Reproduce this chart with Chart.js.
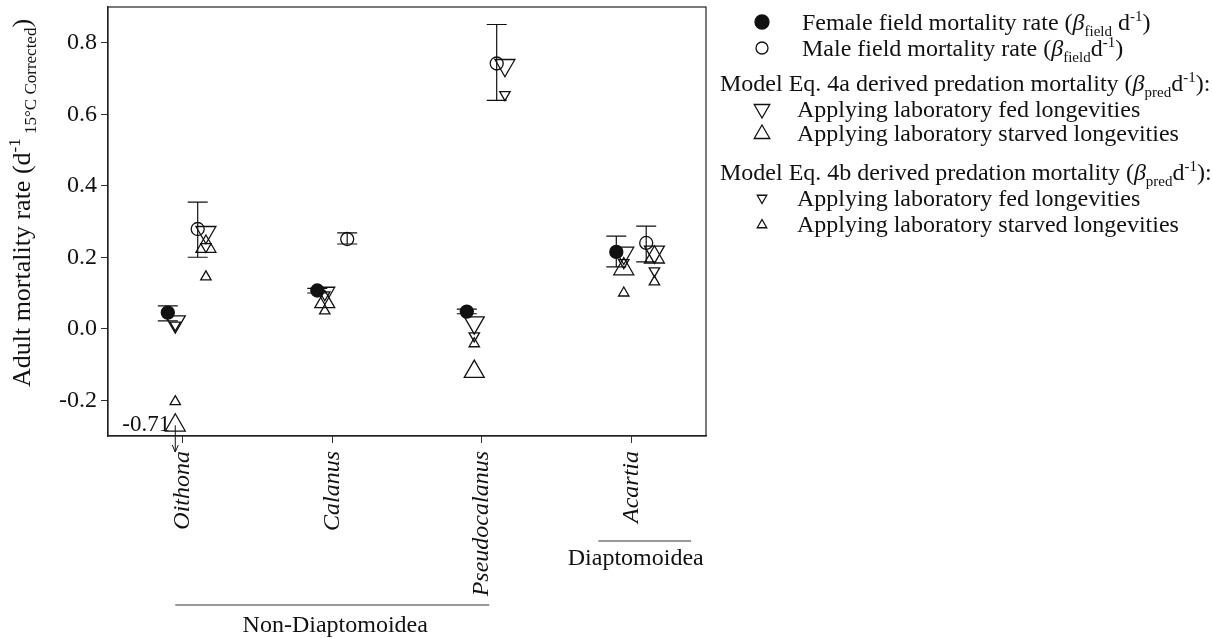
<!DOCTYPE html>
<html>
<head>
<meta charset="utf-8">
<script src="https://cdn.jsdelivr.net/npm/chart.js@4.4.0/dist/chart.umd.min.js"></script>
<style>
body { margin: 0; background: #fff; }
#wrap { position: relative; width: 1212px; height: 638px; font-family: "Liberation Serif", "Times New Roman", serif; color: #111; }
canvas { position: absolute; left: 0; top: 0; }
.leg { position: absolute; font-size: 24px; line-height: 24px; white-space: nowrap; }
.leg sub, .leg sup { font-size: 15px; line-height: 0; }
#ytitle sub, #ytitle sup { font-size: 17px; line-height: 0; }
#ytitle { position: absolute; left: -228px; top: 188px; width: 500px; text-align: center; font-size: 26px; line-height: 30px; white-space: nowrap; transform: rotate(-90deg); }
</style>
</head>
<body>
<div id="wrap">
  <canvas id="chart" width="1212" height="638"></canvas>
  <div id="ytitle">Adult mortality rate (d<sup>-1</sup><sub> 15°C Corrected</sub>)</div>
  <div class="leg" style="left:802px;top:10px">Female field mortality rate (<i>β</i><sub>field</sub> d<sup>-1</sup>)</div>
  <div class="leg" style="left:802px;top:36px">Male field mortality rate (<i>β</i><sub>field</sub>d<sup>-1</sup>)</div>
  <div class="leg" style="left:720px;top:71px">Model Eq. 4a derived predation mortality (<i>β</i><sub>pred</sub>d<sup>-1</sup>):</div>
  <div class="leg" style="left:797px;top:97px">Applying laboratory fed longevities</div>
  <div class="leg" style="left:797px;top:121px">Applying laboratory starved longevities</div>
  <div class="leg" style="left:720px;top:160px">Model Eq. 4b derived predation mortality (<i>β</i><sub>pred</sub>d<sup>-1</sup>):</div>
  <div class="leg" style="left:797px;top:186px">Applying laboratory fed longevities</div>
  <div class="leg" style="left:797px;top:212px">Applying laboratory starved longevities</div>
</div>
<script>
const categories = ['Oithona', 'Calanus', 'Pseudocalanus', 'Acartia'];
const yTicks = [-0.2, 0, 0.2, 0.4, 0.6, 0.8];

// field mortality with error bars
const femaleField = [0.045, 0.107, 0.048, 0.215];
const femaleLow = [0.022, 0.100, 0.042, 0.173];
const femaleHigh = [0.064, 0.113, 0.055, 0.259];
const maleField = [0.279, 0.251, 0.742, 0.240];
const maleLow = [0.200, 0.237, 0.639, 0.187];
const maleHigh = [0.354, 0.268, 0.851, 0.287];

// model predation mortality, F = next to female, M = next to male
const fed4aF = [0.020, 0.100, 0.017, 0.212];
const fed4aM = [0.270, null, 0.737, 0.215];
const starved4aF = [-0.71, 0.075, -0.120, 0.167];
const starved4aM = [0.230, null, null, 0.200];
const fed4bF = [0.010, 0.095, -0.020, 0.185];
const fed4bM = [0.230, null, 0.655, 0.162];
const starved4bF = [-0.204, 0.050, -0.042, 0.100];
const starved4bM = [0.145, null, null, 0.131];

// values below this are drawn at the floor with an arrow
const FLOOR = -0.27;

const OFF_F = -0.10, OFF_M = 0.10, OFF_MODEL_F = -0.05, OFF_MODEL_M = 0.155;

// wanted top edge of the plot box
const PLOT_TOP = 7;

function pts(vals, off) {
    return vals.map((v, i) => v == null ? null : { x: i + 1 + off, y: Math.max(v, FLOOR), raw: v })
        .filter(p => p);
}

function tri(label, valsF, valsM, down, r) {
    return {
        label: label,
        data: pts(valsF, OFF_MODEL_F).concat(pts(valsM, OFF_MODEL_M)),
        pointStyle: 'triangle',
        rotation: down ? 180 : 0,
        pointRadius: r,
        borderColor: '#111',
        backgroundColor: 'rgba(0,0,0,0)',
        borderWidth: 1.3
    };
}

const serif = '"Liberation Serif", "Times New Roman", serif';

const extras = {
    id: 'extras',
    afterLayout(chart) {
        // pull the plot top up to where the original has it
        const y = chart.scales.y;
        chart.chartArea.top = PLOT_TOP;
        chart.chartArea.height = chart.chartArea.bottom - PLOT_TOP;
        y.top = PLOT_TOP;
        y.height = y.bottom - PLOT_TOP;
        y.configure();
    },
    beforeDatasetsDraw(chart) {
        const ctx = chart.ctx, x = chart.scales.x, y = chart.scales.y;
        ctx.save();
        ctx.strokeStyle = '#111';
        ctx.lineWidth = 1.2;
        const bars = (lo, hi, off) => {
            lo.forEach((l, i) => {
                const px = x.getPixelForValue(i + 1 + off);
                const y1 = y.getPixelForValue(l), y2 = y.getPixelForValue(hi[i]);
                ctx.beginPath();
                ctx.moveTo(px, y1); ctx.lineTo(px, y2);
                ctx.moveTo(px - 10, y1); ctx.lineTo(px + 10, y1);
                ctx.moveTo(px - 10, y2); ctx.lineTo(px + 10, y2);
                ctx.stroke();
            });
        };
        bars(femaleLow, femaleHigh, OFF_F);
        bars(maleLow, maleHigh, OFF_M);
        ctx.restore();
    },
    afterDraw(chart) {
        const ctx = chart.ctx, x = chart.scales.x, y = chart.scales.y, a = chart.chartArea;
        ctx.save();
        // plot box
        ctx.strokeStyle = '#222';
        ctx.lineWidth = 1.2;
        ctx.strokeRect(a.left, a.top, a.right - a.left, a.bottom - a.top);

        // off-scale value: label and arrow
        ctx.fillStyle = '#111';
        ctx.strokeStyle = '#111';
        ctx.lineWidth = 1;
        starved4aF.forEach((v, i) => {
            if (v >= FLOOR) return;
            const px = x.getPixelForValue(i + 1 + OFF_MODEL_F);
            const py = y.getPixelForValue(FLOOR);
            ctx.beginPath();
            ctx.moveTo(px, py); ctx.lineTo(px, a.bottom + 16);
            ctx.moveTo(px - 3, a.bottom + 9); ctx.lineTo(px, a.bottom + 16); ctx.lineTo(px + 3, a.bottom + 9);
            ctx.stroke();
            ctx.font = '23px ' + serif;
            ctx.textAlign = 'right';
            ctx.textBaseline = 'middle';
            ctx.fillText(v.toFixed(2), px - 5, py);
        });

        // taxon groups below the axis
        const groups = [
            { name: 'Non-Diaptomoidea', from: 0.95, to: 3.05, mid: 2.02, lineY: 605, textY: 626 },
            { name: 'Diaptomoidea', from: 3.78, to: 4.40, mid: 4.03, lineY: 541, textY: 559 }
        ];
        ctx.strokeStyle = '#333';
        ctx.font = '24px ' + serif;
        ctx.textAlign = 'center';
        ctx.textBaseline = 'middle';
        groups.forEach(g => {
            const x1 = x.getPixelForValue(g.from), x2 = x.getPixelForValue(g.to);
            ctx.beginPath();
            ctx.moveTo(x1, g.lineY); ctx.lineTo(x2, g.lineY);
            ctx.stroke();
            ctx.fillText(g.name, x.getPixelForValue(g.mid), g.textY);
        });

        // legend symbols
        const sym = [
            { y: 22, style: 'circle', r: 7, fill: '#111', rot: 0 },
            { y: 48, style: 'circle', r: 6, fill: null, rot: 0 },
            { y: 109, style: 'triangle', r: 9, fill: null, rot: 180 },
            { y: 134, style: 'triangle', r: 9, fill: null, rot: 0 },
            { y: 198, style: 'triangle', r: 5.5, fill: null, rot: 180 },
            { y: 225, style: 'triangle', r: 5.5, fill: null, rot: 0 }
        ];
        sym.forEach(s => {
            ctx.strokeStyle = '#111';
            ctx.fillStyle = s.fill || 'rgba(0,0,0,0)';
            ctx.lineWidth = 1.3;
            Chart.helpers.drawPoint(ctx, { pointStyle: s.style, radius: s.r, rotation: s.rot, borderWidth: 1.3 }, 762, s.y);
        });
        ctx.restore();
    }
};

new Chart(document.getElementById('chart'), {
    type: 'scatter',
    data: {
        datasets: [
            {
                label: 'Female field mortality rate',
                data: pts(femaleField, OFF_F),
                pointStyle: 'circle', pointRadius: 6.5,
                borderColor: '#111', backgroundColor: '#111', borderWidth: 1.3
            },
            {
                label: 'Male field mortality rate',
                data: pts(maleField, OFF_M),
                pointStyle: 'circle', pointRadius: 6.5,
                borderColor: '#111', backgroundColor: 'rgba(0,0,0,0)', borderWidth: 1.3
            },
            tri('Eq. 4a fed', fed4aF, fed4aM, true, 11.5),
            tri('Eq. 4a starved', starved4aF, starved4aM, false, 11.5),
            tri('Eq. 4b fed', fed4bF, fed4bM, true, 6),
            tri('Eq. 4b starved', starved4bF, starved4bM, false, 6)
        ]
    },
    options: {
        responsive: false,
        animation: false,
        layout: { padding: { left: 0, top: 7, right: 506, bottom: 0 } },
        plugins: { legend: { display: false }, tooltip: { enabled: false } },
        scales: {
            x: {
                type: 'linear',
                min: 0.5, max: 4.5,
                afterFit: s => { s.height = 202; s.paddingLeft = 0; s.paddingRight = 0; },
                afterBuildTicks: s => { s.ticks = categories.map((c, i) => ({ value: i + 1 })); },
                grid: { drawOnChartArea: false, drawTicks: true, tickLength: 7, color: '#333' },
                border: { display: true, color: '#222', width: 1.2 },
                ticks: {
                    autoSkip: false, minRotation: 90, maxRotation: 90, padding: 8,
                    color: '#111',
                    font: { family: serif, size: 24, style: 'italic' },
                    callback: (v, i) => categories[i]
                }
            },
            y: {
                min: -0.3, max: 0.9,
                afterFit: s => { s.width = 108; s.paddingTop = 0; s.paddingBottom = 0; },
                afterBuildTicks: s => { s.ticks = yTicks.map(v => ({ value: v })); },
                grid: { drawOnChartArea: false, drawTicks: true, tickLength: 7, color: '#333' },
                border: { display: true, color: '#222', width: 1.2 },
                ticks: {
                    padding: 4, color: '#111',
                    font: { family: serif, size: 24 },
                    callback: v => v.toFixed(1)
                }
            }
        }
    },
    plugins: [extras]
});
</script>
</body>
</html>
